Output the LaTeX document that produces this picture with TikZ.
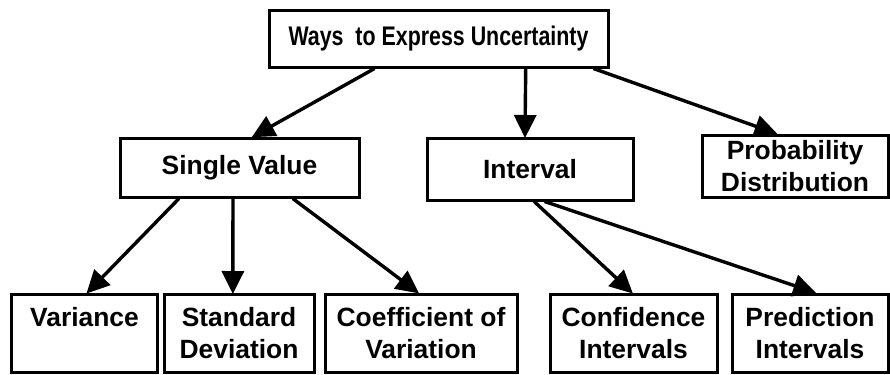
\documentclass[tikz,border=0pt]{standalone}
\usepackage{fontspec}
\setmainfont{Liberation Sans}
\usetikzlibrary{arrows.meta,calc}
\tikzset{
  box/.style={draw, line width=3bp, rectangle, inner sep=0pt, align=center,
    font=\bfseries\fontsize{26.5}{33}\selectfont},
  link/.style={line width=3.4bp, -{Triangle[length=23bp,width=22bp]}, shorten >=-1.5bp}
}
\begin{document}
\begin{tikzpicture}[x=1bp,y=-1bp]
\useasboundingbox (0,0) rectangle (890,374);
% top level
\node[box, minimum width=339bp, minimum height=57bp] (top) at (438.5,38.5) {\scalebox{0.81}[1.02]{Ways\ \ to Express Uncertainty}};
% second level
\node[box, minimum width=239bp, minimum height=59bp] (single) at (239.5,167.5) {Single Value};
\node[box, minimum width=206bp, minimum height=62bp] (interval) at (530,169) {Interval};
\node[box, minimum width=186bp, minimum height=62bp] (prob) at (795,166) {Probability\\Distribution};
% third level
\node[box, minimum width=145bp, minimum height=78bp] (var) at (84.5,333) {Variance\\\mbox{}};
\node[box, minimum width=150bp, minimum height=78bp] (sd) at (239,333) {Standard\\Deviation};
\node[box, minimum width=192bp, minimum height=78bp] (cv) at (421,333) {Coefficient of\\Variation};
\node[box, minimum width=167bp, minimum height=78bp] (ci) at (633.5,333) {Confidence\\Intervals};
\node[box, minimum width=156bp, minimum height=78bp] (pi) at (810,333) {Prediction\\Intervals};
% connectors
\draw[link] ($(top.south west)!0.313!(top.south east)$) -- ($(single.north west)!0.556!(single.north east)$);
\draw[link] ($(top.south west)!0.755!(top.south east)$) -- ($(interval.north west)!0.476!(interval.north east)$);
\draw[link] ($(top.south west)!0.953!(top.south east)$) -- ($(prob.north west)!0.40!(prob.north east)$);
\draw[link] ($(single.south west)!0.25!(single.south east)$) -- ($(var.north west)!0.52!(var.north east)$);
\draw[link] ($(single.south west)!0.473!(single.south east)$) -- ($(sd.north west)!0.46!(sd.north east)$);
\draw[link] ($(single.south west)!0.72!(single.south east)$) -- ($(cv.north west)!0.484!(cv.north east)$);
\draw[link] ($(interval.south west)!0.52!(interval.south east)$) -- ($(ci.north west)!0.49!(ci.north east)$);
\draw[link] ($(interval.south west)!0.57!(interval.south east)$) -- ($(pi.north west)!0.53!(pi.north east)$);
\end{tikzpicture}
\end{document}
